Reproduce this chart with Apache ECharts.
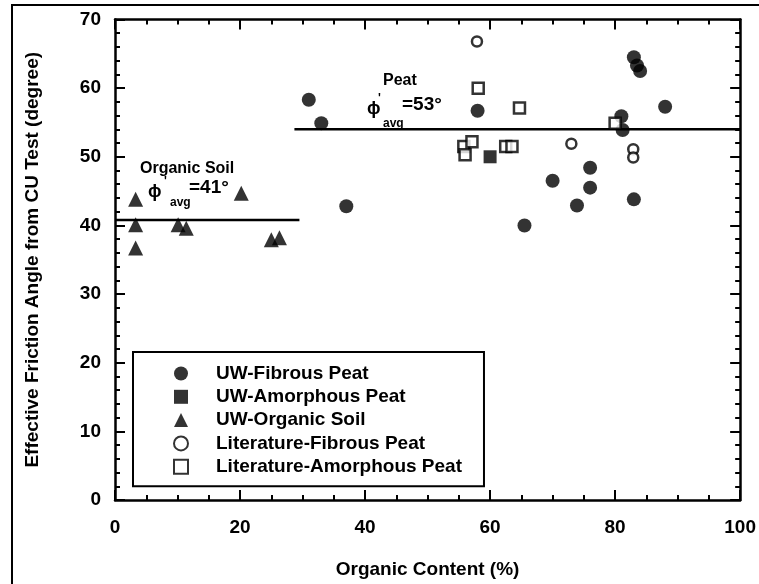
<!DOCTYPE html>
<html>
<head>
<meta charset="utf-8">
<script src="https://cdn.jsdelivr.net/npm/echarts@6/dist/echarts.min.js"></script>
<style>
html,body{margin:0;padding:0;background:#fff;}
#main{width:759px;height:584px;}
</style>
</head>
<body>
<div id="main"></div>
<script>
// ---- data ----
const xTickValues = [0, 20, 40, 60, 80, 100];
const yTickValues = [0, 10, 20, 30, 40, 50, 60, 70];

const uwFibrousX = [31, 33, 37, 58, 65.5, 70, 73.9, 76, 76, 81, 81.2, 83, 83, 83.5, 84, 88];
const uwFibrousY = [58.3, 54.9, 42.8, 56.7, 40.0, 46.5, 42.9, 48.4, 45.5, 55.9, 53.9, 43.8, 64.5, 63.3, 62.5, 57.3];

const uwAmorphousX = [60];
const uwAmorphousY = [50.0];

const uwOrganicX = [3.3, 3.3, 3.3, 10.1, 11.4, 20.2, 25, 26.3];
const uwOrganicY = [43.8, 40.1, 36.7, 40.1, 39.6, 44.7, 37.9, 38.2];

const litFibrousX = [57.9, 73, 82.9, 82.9];
const litFibrousY = [66.8, 51.9, 51.1, 49.9];

const litAmorphousX = [58.1, 64.7, 55.8, 56, 57.1, 62.5, 63.5, 80];
const litAmorphousY = [60.0, 57.1, 51.5, 50.3, 52.2, 51.5, 51.5, 54.9];

const organicAvgX = [0, 29.5];
const organicAvgY = [40.8, 40.8];
const peatAvgX = [28.7, 100];
const peatAvgY = [54.0, 54.0];

const seriesNames = ['UW-Fibrous Peat', 'UW-Amorphous Peat', 'UW-Organic Soil',
                     'Literature-Fibrous Peat', 'Literature-Amorphous Peat'];

// ---- build ----
const zip = (xs, ys) => xs.map((x, i) => [x, ys[i]]);
const FONT = '"Liberation Sans", Arial, sans-serif';
const black = '#000';

function axisCommon(showLabel, isX) {
  return {
    type: 'value', min: 0, max: isX ? 100 : 70, interval: isX ? 20 : 10,
    axisLine: { show: true, onZero: false, lineStyle: { color: black, width: 2.5 } },
    axisTick: { show: true, inside: true, length: 10, lineStyle: { color: black, width: 2 } },
    minorTick: { show: true, splitNumber: isX ? 4 : 5, length: 5, lineStyle: { color: black, width: 2 } },
    splitLine: { show: false },
    minorSplitLine: { show: false },
    axisLabel: {
      show: showLabel, color: black, fontFamily: FONT, fontSize: 19, fontWeight: 'bold',
      margin: isX ? 18 : 14
    }
  };
}

const xBottom = Object.assign(axisCommon(true, true), {
  position: 'bottom', name: 'Organic Content (%)', nameLocation: 'middle', nameGap: 60,
  nameTextStyle: { color: black, fontFamily: FONT, fontSize: 19, fontWeight: 'bold' }
});
const xTop = Object.assign(axisCommon(false, true), { position: 'top' });
const yLeft = Object.assign(axisCommon(true, false), {
  position: 'left', name: 'Effective Friction Angle from CU Test (degree)', nameLocation: 'middle', nameGap: 73,
  nameTextStyle: { color: black, fontFamily: FONT, fontSize: 19, fontWeight: 'bold' }
});
const yRight = Object.assign(axisCommon(false, false), { position: 'right' });

const filled = { color: black };
const open = { color: '#fff', borderColor: black, borderWidth: 2.5 };

const option = {
  animation: false,
  backgroundColor: '#fff',
  grid: { left: 115, right: 17, top: 19.5, bottom: 83, containLabel: false },
  xAxis: [xBottom, xTop],
  yAxis: [yLeft, yRight],
  legend: {
    data: seriesNames,
    orient: 'vertical', left: 133, top: 352,
    padding: [12, 22, 10, 40],
    itemWidth: 14, itemHeight: 14, itemGap: 4.3,
    selectedMode: false,
    borderColor: black, borderWidth: 2,
    formatter: name => '{g|}' + name,
    textStyle: { color: black, fontFamily: FONT, fontSize: 19, fontWeight: 'bold', lineHeight: 19,
      rich: { g: { width: 23 } } }
  },
  graphic: [
    { type: 'polyline', shape: { points: [[12, 584], [12, 5], [759, 5]] }, style: { stroke: black, lineWidth: 2, fill: null }, silent: true },
    // Organic soil annotation
    { type: 'text', left: 140, top: 161, style: { text: 'Organic Soil', font: 'bold 16px ' + FONT, fill: black } },
    { type: 'text', left: 148, top: 183, style: { text: 'ϕ', font: 'bold 18px ' + FONT, fill: black } },
    { type: 'text', left: 164, top: 176, style: { text: "'", font: 'bold 12px ' + FONT, fill: black } },
    { type: 'text', left: 170, top: 197, style: { text: 'avg', font: 'bold 12px ' + FONT, fill: black } },
    { type: 'text', left: 189, top: 178, style: { text: '=41°', font: 'bold 19px ' + FONT, fill: black } },
    // Peat annotation
    { type: 'text', left: 383, top: 73, style: { text: 'Peat', font: 'bold 16px ' + FONT, fill: black } },
    { type: 'text', left: 367, top: 100, style: { text: 'ϕ', font: 'bold 18px ' + FONT, fill: black } },
    { type: 'text', left: 378, top: 93, style: { text: "'", font: 'bold 12px ' + FONT, fill: black } },
    { type: 'text', left: 383, top: 118, style: { text: 'avg', font: 'bold 12px ' + FONT, fill: black } },
    { type: 'text', left: 402, top: 95, style: { text: '=53°', font: 'bold 19px ' + FONT, fill: black } }
  ],
  series: [
    { type: 'line', data: zip(organicAvgX, organicAvgY), symbol: 'none', silent: true, z: 1,
      lineStyle: { color: black, width: 2.5 } },
    { type: 'line', data: zip(peatAvgX, peatAvgY), symbol: 'none', silent: true, z: 1,
      lineStyle: { color: black, width: 2.5 } },
    { name: seriesNames[0], type: 'scatter', data: zip(uwFibrousX, uwFibrousY), symbol: 'circle', symbolSize: 14, itemStyle: filled, z: 3 },
    { name: seriesNames[1], type: 'scatter', data: zip(uwAmorphousX, uwAmorphousY), symbol: 'rect', symbolSize: 13, itemStyle: filled, z: 3 },
    { name: seriesNames[2], type: 'scatter', data: zip(uwOrganicX, uwOrganicY), symbol: 'triangle', symbolSize: 15, itemStyle: filled, z: 3 },
    { name: seriesNames[3], type: 'scatter', data: zip(litFibrousX, litFibrousY), symbol: 'circle', symbolSize: 10, itemStyle: open, z: 3 },
    { name: seriesNames[4], type: 'scatter', data: zip(litAmorphousX, litAmorphousY), symbol: 'rect', symbolSize: 11, itemStyle: open, z: 3 }
  ]
};

const chart = echarts.init(document.getElementById('main'), null, { renderer: 'canvas' });
chart.setOption(option);
</script>
</body>
</html>
